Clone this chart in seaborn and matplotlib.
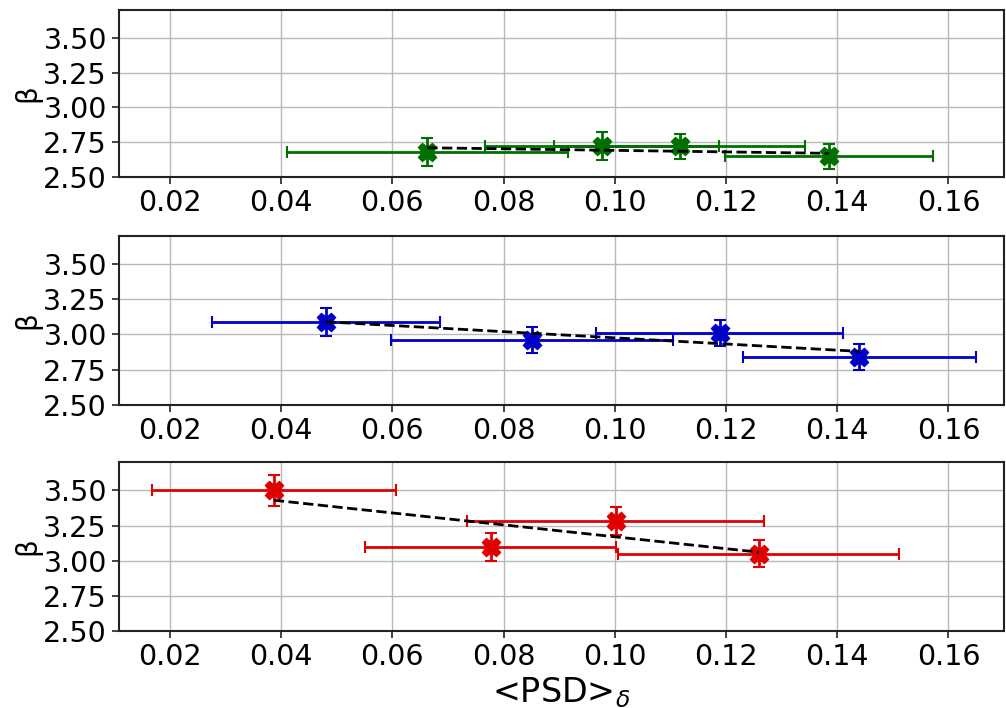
import matplotlib
matplotlib.use("Agg")
import matplotlib.pyplot as plt
import seaborn as sns
import pandas as pd

# <PSD>_delta values, beta values and their errors, per group
psd_green = [0.0663, 0.0977, 0.1117, 0.1385]
psd_green_err = [0.0253, 0.0210, 0.0226, 0.0187]
beta_green = [2.68, 2.72, 2.72, 2.65]
beta_green_err = [0.10, 0.10, 0.09, 0.09]
fit_green = [2.71, 2.67]

psd_blue = [0.0480, 0.0851, 0.1189, 0.1440]
psd_blue_err = [0.0205, 0.0254, 0.0222, 0.0210]
beta_blue = [3.09, 2.96, 3.01, 2.84]
beta_blue_err = [0.10, 0.094, 0.093, 0.093]
fit_blue = [3.09, 2.88]

psd_red = [0.0387, 0.0777, 0.1002, 0.1259]
psd_red_err = [0.0220, 0.0226, 0.0267, 0.0253]
beta_red = [3.50, 3.10, 3.28, 3.05]
beta_red_err = [0.11, 0.10, 0.10, 0.097]
fit_red = [3.43, 3.06]

groups = [
    ("#007000", psd_green, psd_green_err, beta_green, beta_green_err, fit_green),
    ("#0000c8", psd_blue, psd_blue_err, beta_blue, beta_blue_err, fit_blue),
    ("#e00000", psd_red, psd_red_err, beta_red, beta_red_err, fit_red),
]

sns.set_style("whitegrid", {"axes.edgecolor": "#222222", "grid.color": "#b8b8b8",
                            "xtick.bottom": True, "ytick.left": True,
                            "text.color": "black", "xtick.color": "black",
                            "ytick.color": "black", "axes.labelcolor": "black"})
plt.rcParams["font.family"] = ["DejaVu Sans"]

fig = plt.figure(figsize=(10.06, 7.08), dpi=100)
boxes = [(0.986, 0.750), (0.667, 0.428), (0.347, 0.109)]
left, right = 0.118, 0.998

for (color, x, xe, y, ye, fit), (top, bottom) in zip(groups, boxes):
    ax = fig.add_axes([left, bottom, right - left, top - bottom])
    ax.errorbar(x, y, xerr=xe, yerr=ye, fmt="X", color=color, ecolor=color,
                markersize=13, elinewidth=2, capsize=4, capthick=1.5, zorder=3)
    fit_df = pd.DataFrame({"psd": [min(x), max(x)], "beta": fit})
    sns.lineplot(data=fit_df, x="psd", y="beta", ax=ax, color="black",
                 linestyle="--", linewidth=2, zorder=4)
    ax.set_xlim(0.0108, 0.170)
    ax.set_ylim(2.5, 3.7)
    ax.set_yticks([2.5, 2.75, 3.0, 3.25, 3.5])
    ax.set_yticklabels(["2.50", "2.75", "3.00", "3.25", "3.50"])
    ax.set_xticks([0.02, 0.04, 0.06, 0.08, 0.10, 0.12, 0.14, 0.16])
    ax.set_xticklabels(["0.02", "0.04", "0.06", "0.08", "0.10", "0.12", "0.14", "0.16"])
    ax.tick_params(labelsize=20.5, length=5, width=1.2, color="#222222")
    ax.set_ylabel("β", fontsize=20, labelpad=1)
    ax.set_xlabel("")
    for s in ax.spines.values():
        s.set_linewidth(1.5)
    ax.grid(True, linewidth=1)

ax.set_xlabel(r"<PSD>$_\delta$", fontsize=24, labelpad=3)

fig.savefig("out.png", dpi=100)
